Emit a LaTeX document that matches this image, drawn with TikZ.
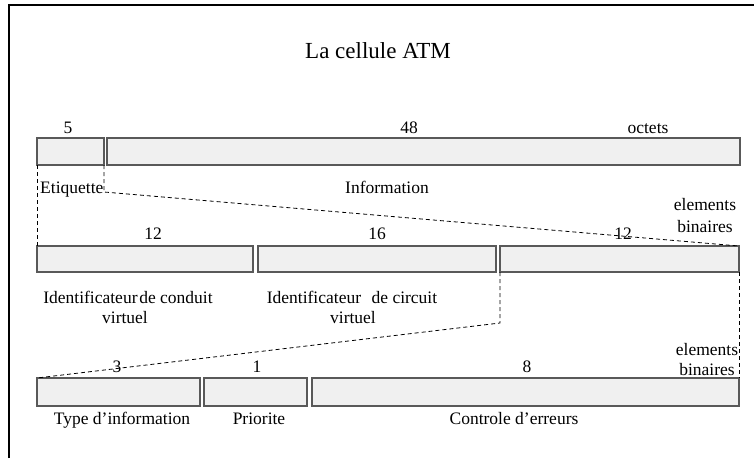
\documentclass[tikz,border=0pt]{standalone}
\usepackage{fontspec}
\setmainfont{Liberation Serif}
\begin{document}
\begin{tikzpicture}[x=1pt,y=-1pt,
  cell/.style={draw=black!65, fill=black!6, line width=1.2pt, rectangle, inner sep=0pt, outer sep=0pt, anchor=north west},
  lbl/.style={font=\fontsize{17.5}{21}\selectfont, inner sep=0pt, anchor=base},
  ttl/.style={font=\fontsize{23}{27}\selectfont, inner sep=0pt, anchor=base},
  link/.style={dashed, dash pattern=on 4pt off 3pt, line width=0.8pt, black}]
\useasboundingbox (0,0) rectangle (754,458);
% frame
\draw[line width=2pt] (9,458) -- (9,5) -- (754,5);
% title
\node[ttl] (title) at (378,58) {La cellule ATM};
% row 1
\node[cell, minimum width=67pt, minimum height=27pt] (etq) at (37,138) {};
\node[cell, minimum width=633pt, minimum height=27pt] (inf) at (107,138) {};
\node[lbl] (n5) at (68,133) {5};
\node[lbl] (n48) at (409,133) {48};
\node[lbl] (oct) at (648,133) {octets};
\node[lbl, anchor=base west] (etql) at (40,193) {Etiquette};
\node[lbl] (infl) at (387,193) {Information};
\node[lbl] (eb1) at (705,210) {elements};
\node[lbl] (bb1) at (705,232) {binaires};
% row 2
\node[cell, minimum width=216pt, minimum height=26pt] (vpi) at (37,246) {};
\node[cell, minimum width=238pt, minimum height=26pt] (vci) at (258,246) {};
\node[cell, minimum width=239pt, minimum height=26pt] (rest) at (500,246) {};
\node[lbl] (n12a) at (153,239) {12};
\node[lbl] (n16) at (377,239) {16};
\node[lbl] (n12b) at (623,239) {12};
\node[lbl] (vpil1) at (128,303) {Identificateur\hspace{0.1em}de conduit};
\node[lbl] (vpil2) at (125,323) {virtuel};
\node[lbl] (vcil1) at (352,303) {Identificateur\hspace{0.6em}de circuit};
\node[lbl] (vcil2) at (353,323) {virtuel};
% row 3
\node[cell, minimum width=163pt, minimum height=28pt] (typ) at (37,378) {};
\node[cell, minimum width=103pt, minimum height=28pt] (pri) at (204,378) {};
\node[cell, minimum width=427pt, minimum height=28pt] (hec) at (312,378) {};
\node[lbl] (n3) at (117,372) {3};
\node[lbl] (n1) at (257,372) {1};
\node[lbl] (n8) at (527,372) {8};
\node[lbl] (eb2) at (707,355) {elements};
\node[lbl] (bb2) at (707,375) {binaires};
\node[lbl] (typl) at (122,424) {Type d’information};
\node[lbl] (pril) at (259,424) {Priorite};
\node[lbl] (hecl) at (514,424) {Controle d’erreurs};
% dashed zoom lines
\coordinate (k1) at (104,192);
\coordinate (k2) at (500,323);
\draw[link] (etq.south west) -- (vpi.north west);
\draw[link] (etq.south east) -- (k1) -- (rest.north east);
\draw[link] (rest.south west) -- (k2) -- (typ.north west);
\draw[link] (rest.south east) -- (hec.north east);
\end{tikzpicture}
\end{document}
